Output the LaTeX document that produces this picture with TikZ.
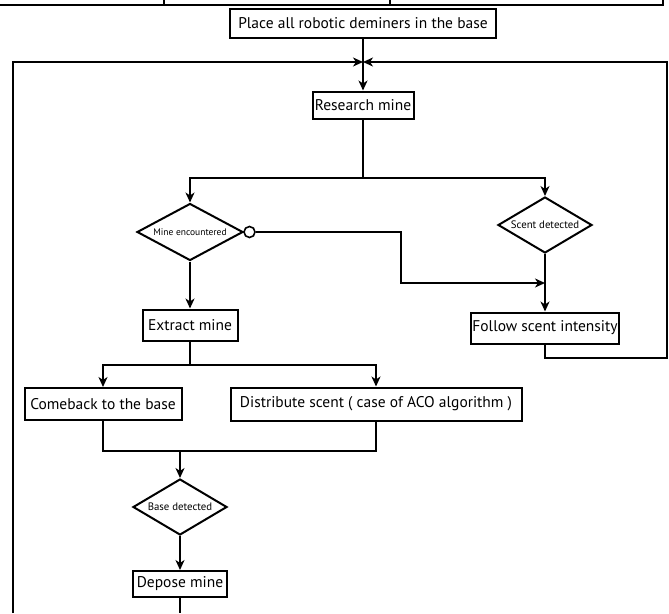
\documentclass[tikz,border=0pt]{standalone}
\usepackage{fontspec}
\setmainfont{PT Sans}
\usetikzlibrary{shapes.geometric,arrows.meta}
\begin{document}
\begin{tikzpicture}[x=1pt,y=-1pt,
  box/.style={draw,line width=2pt,rectangle,inner sep=0pt,font=\fontsize{15.5}{17}\selectfont},
  dia/.style={draw,line width=2pt,diamond,inner sep=0pt},
  dtxt/.style={font=\fontsize{10.8}{12}\selectfont,inner sep=0pt},
  con/.style={line width=1.8pt},
  arr/.style={con,-{Stealth[length=10pt,width=9pt,inset=3pt]}},
  rim/.style={line width=2pt}]
\useasboundingbox (0,0) rectangle (669,613);
% fragment of the table above
\coordinate (t0) at (0,5);
\coordinate (t1) at (663,5);
\draw[rim] (t0) -- (t1) -- (663,0);
\draw[rim] (164,0) -- (164,5);
\draw[rim] (390,0) -- (390,5);
% nodes
\node[box,minimum width=266pt,minimum height=29pt] (place) at (363,23) {Place all robotic deminers in the base};
\node[box,minimum width=101pt,minimum height=27pt] (research) at (363,105) {Research mine};
\node[dia,minimum width=106pt,minimum height=57pt] (mine) at (190,232) {};
\node[dtxt,font=\fontsize{9.5}{11}\selectfont] (minet) at (mine.center) {Mine encountered};
\node[dia,minimum width=94pt,minimum height=56pt] (scent) at (545,225) {};
\node[dtxt] (scentt) at (scent.center) {Scent detected};
\node[box,minimum width=148pt,minimum height=31pt] (follow) at (545,328) {Follow scent intensity};
\node[box,minimum width=95pt,minimum height=31pt] (extract) at (190,325) {Extract mine};
\node[box,minimum width=157pt,minimum height=32pt] (comeback) at (103,404) {Comeback to the base};
\node[box,minimum width=291pt,minimum height=33pt] (distribute) at (376,404) {Distribute scent ( case of ACO algorithm )};
\node[dia,minimum width=94pt,minimum height=56pt] (base) at (180,507) {};
\node[dtxt] (baset) at (base.center) {Base detected};
\node[box,minimum width=94pt,minimum height=26pt] (depose) at (180,584) {Depose mine};
\node[draw,line width=1.6pt,circle,minimum size=11pt,inner sep=0pt] (mc) at (249.5,232) {};
% coordinates
\coordinate (j) at (363,62);
\coordinate (lb) at (13,613);
\coordinate (db) at (180,613);
\coordinate (rc) at (667,62);
\coordinate (fs) at (545,358);
\coordinate (m2) at (545,283);
\coordinate (s1) at (363,178);
\coordinate (e1) at (190,365);
\coordinate (b1) at (180,451);
% connectors
\draw[con] (place.south) -- (j);
\draw[arr] (j) -- (research.north);
\draw[arr] (lb) |- (j);
\draw[arr] (follow.south) |- (fs) -| (rc) -- (j);
\draw[con] (research.south) -- (s1);
\draw[arr] (s1) -| (mine.north);
\draw[arr] (s1) -| (scent.north);
\draw[arr] (mc.east) -- (401,232) |- (m2);
\draw[arr] (scent.south) -- (follow.north);
\draw[arr] (mine.south) -- (extract.north);
\draw[con] (extract.south) -- (e1);
\draw[arr] (e1) -| (comeback.north);
\draw[arr] (e1) -| (distribute.north);
\draw[con] (comeback.south) |- (b1) -| (distribute.south);
\draw[arr] (b1) -- (base.north);
\draw[arr] (base.south) -- (depose.north);
\draw[con] (depose.south) -- (db);
\end{tikzpicture}
\end{document}
